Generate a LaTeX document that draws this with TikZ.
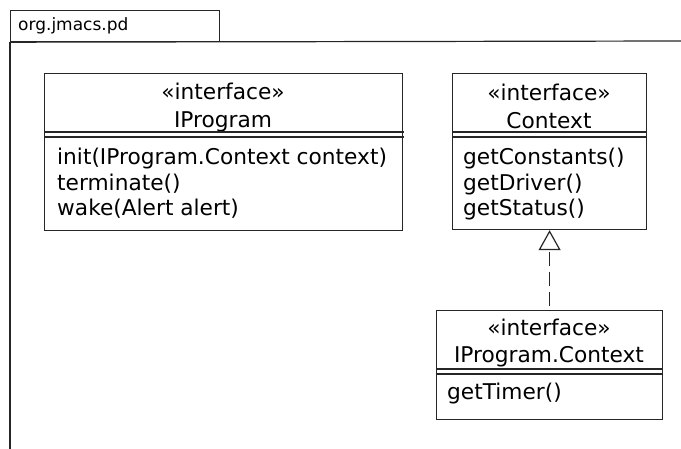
\documentclass[tikz,border=0pt]{standalone}
\usepackage{fontspec}
\setmainfont{DejaVu Sans}
\usetikzlibrary{arrows.meta}
\usetikzlibrary{positioning}
\usetikzlibrary{calc}
\tikzset{
  % open triangle for realization arrows
  >={Triangle[open, length=20pt, width=22pt]},
  % common line look
  uml/.style={draw=black!85, line width=1.2pt}
}

\begin{document}
\begin{tikzpicture}[x=1pt, y=-1pt, font=\fontsize{21.7}{25.5}\selectfont]
    % Define styles
    \tikzstyle{classbox} = [rectangle, uml, anchor=north west, inner sep=0pt]
    \tikzstyle{header} = [align=center, inner sep=0pt]
    \tikzstyle{methods} = [align=left, anchor=north west, inner sep=0pt]
    \tikzstyle{realize} = [uml, dash pattern=on 14pt off 6pt, dash phase=16pt, ->]

    \useasboundingbox (0,0) rectangle (681,449);

    % Package frame
    \node [classbox, minimum width=209pt, minimum height=31pt] (pkgtab) at (10,10) {};
    \node [anchor=west, inner sep=0pt, font=\fontsize{17}{20}\selectfont] (pkgname) at (18,26) {org.jmacs.pd};
    \draw [uml] (pkgtab.south west) -- (681,41);
    \draw [uml] (pkgtab.south west) -- (10,449);

    % Place nodes
    \node [classbox, minimum width=358pt, minimum height=157pt] (iprogram) at (44,73) {};
    \node [header] (iprogramhead) at (223,108) {«interface»\\[2.5pt]IProgram};
    \node [methods] (iprogramops) at (57,148) {init(IProgram.Context context)\\terminate()\\wake(Alert alert)};

    \node [classbox, minimum width=194pt, minimum height=156pt] (context) at (452,73) {};
    \node [header] (contexthead) at (549,106) {«interface»\\[2.5pt]Context};
    \node [methods] (contextops) at (463,148) {getConstants()\\getDriver()\\getStatus()};

    \node [classbox, minimum width=226pt, minimum height=109pt] (ipcontext) at (436,310) {};
    \node [header] (ipcontexthead) at (549,343.5) {«interface»\\[1.5pt]IProgram.Context};
    \node [methods] (ipcontextops) at (447,383) {getTimer()};

    % Compartment separators
    \foreach \cls/\w/\off in {iprogram/360/59, context/195/59, ipcontext/227/59} {
      \draw [uml] ($(\cls.north west)+(0,\off)$) -- ++(\w,0);
      \draw [uml] ($(\cls.north west)+(0,\off+5)$) -- ++(\w,0);
    }

    % Draw edges
    \draw [realize] (ipcontext) -- (context);
\end{tikzpicture}
\end{document}
